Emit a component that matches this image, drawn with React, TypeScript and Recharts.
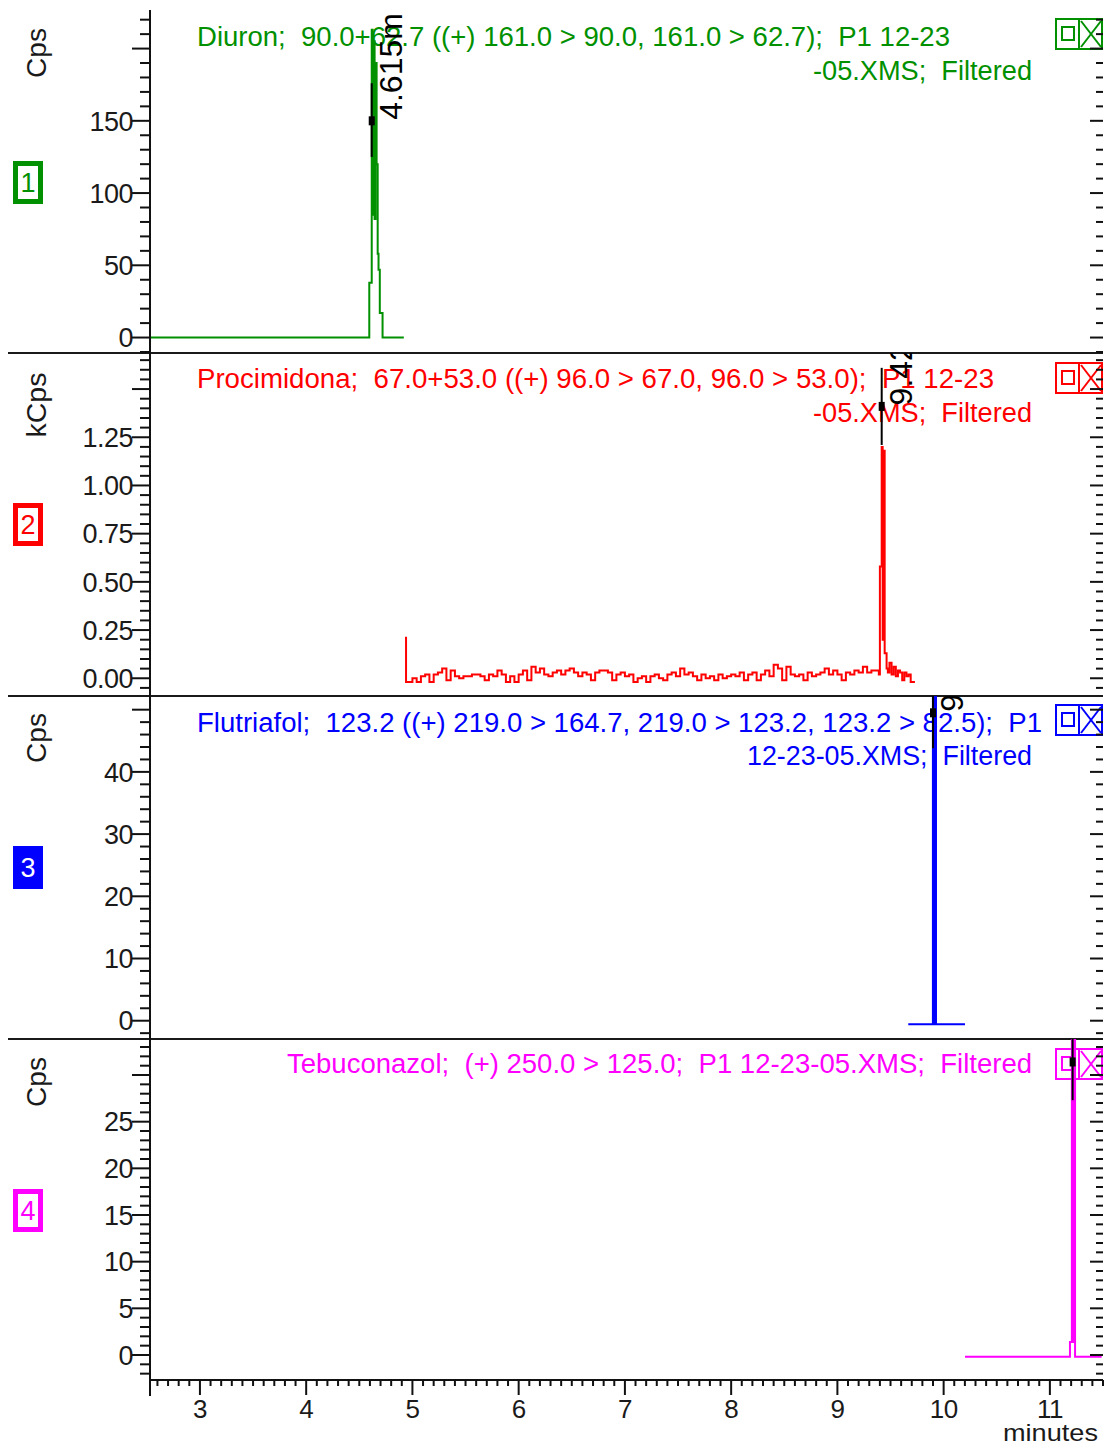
import React from "react";
import { LineChart, Line, XAxis, YAxis } from "recharts";

const FONT = "'Liberation Sans', Arial, sans-serif";
const GREEN = "#009000";
const RED = "#ff0000";
const BLUE = "#0000ff";
const MAGENTA = "#ff00ff";

// retention time axis, minutes
const timeDomain: [number, number] = [2.53, 11.5];
const minuteLabels = [3, 4, 5, 6, 7, 8, 9, 10, 11];

// 1 - Diuron, Cps
const diuronTime = [2.53, 4.594, 4.617, 4.626, 4.635, 4.644, 4.653, 4.663, 4.673, 4.681, 4.693, 4.719, 4.919];
const diuronCps = [0, 38, 213, 85, 205, 82, 190, 120, 58, 47, 17, 0, 0];

// 2 - Procimidona, kCps
const procLeadTime = [4.93, 4.94];
const procLeadKcps = [0.21, -0.02];
const procNoiseStart = 4.96;
const procNoiseStep = 0.04;
const procNoiseKcps = [
  -0.02, 0.0, -0.02, 0.01, 0.02, -0.02, 0.02, 0.03, 0.05, -0.01, 0.04,
  0.01, 0.0, 0.01, 0.01, 0.02, 0.02, 0.01, -0.01, 0.02, 0.01,
  0.04, 0.02, -0.02, 0.01, -0.02, 0.02, 0.04, -0.01, 0.06, 0.03,
  0.05, 0.02, 0.01, 0.03, 0.04, 0.02, 0.04, 0.05, 0.03, 0.01,
  0.03, 0.02, -0.01, 0.03, 0.04, 0.04, 0.03, -0.01, 0.02, 0.03,
  0.01, 0.02, -0.02, 0.0, 0.01, -0.02, 0.01, 0.02, 0.0, -0.01,
  0.02, 0.03, 0.01, 0.05, 0.02, 0.03, 0.01, -0.01, 0.02, 0.0,
  0.01, -0.01, 0.02, 0.0, 0.01, 0.02, 0.01, 0.03, -0.01, 0.02,
  0.03, -0.01, 0.02, 0.04, 0.01, 0.07, 0.05, -0.01, 0.06, 0.02,
  0.01, 0.02, -0.01, 0.03, 0.01, 0.02, 0.03, 0.05, 0.02, 0.04,
  0.02, -0.01, 0.03, 0.02, 0.04, 0.03, 0.06, 0.03, 0.04, 0.04,
];
const procPeakTime = [9.39, 9.4, 9.417, 9.426, 9.436, 9.445, 9.463, 9.475, 9.49, 9.51, 9.53, 9.55, 9.57, 9.59, 9.61, 9.63, 9.65, 9.67, 9.69, 9.73];
const procPeakKcps = [0.02, 0.58, 1.2, 0.2, 1.18, 0.13, 0.05, 0.03, 0.08, 0.02, 0.06, 0.01, 0.04, 0.03, -0.01, 0.03, 0.01, 0.02, -0.02, -0.02];

// 3 - Flutriafol, Cps
const flutTime = [9.667, 9.899, 9.909, 9.918, 9.928, 10.201];
const flutCps = [-0.58, 70, -0.58, 70, -0.58, -0.58];

// 4 - Tebuconazol, Cps
const tebuTime = [10.201, 11.189, 11.207, 11.217, 11.227, 11.237, 11.487];
const tebuCps = [-0.18, 1.4, 40, 1.4, 40, -0.18, -0.18];

// peak markers (one per trace)
const markerTime = [4.617, 9.417, 9.9, 11.214];
const markerHigh = [176, 1.61, 55, 36];
const markerLow = [125, 1.21, 43.8, 27.3];
const markerSquare = [150, 1.41, 49.5, 31.4];
const markerLabel = ["4.615m", "9.42m", "9.91m", ""];

const range = (from: number, to: number, step: number) => {
  const n = Math.round((to - from) / step);
  return Array.from({ length: n + 1 }, (_, i) => Math.round((from + i * step) * 1000) / 1000);
};
const has = (arr: number[], v: number) => arr.some((a) => Math.abs(a - v) < 1e-6);
const zip = (t: number[], v: number[]) => t.map((x, i) => ({ t: x, v: v[i] }));

const procData = [
  ...zip(procLeadTime, procLeadKcps),
  ...procNoiseKcps.map((v, i) => ({ t: Math.round((procNoiseStart + i * procNoiseStep) * 1000) / 1000, v })),
  ...zip(procPeakTime, procPeakKcps),
];

const panels = [
  {
    top: 0, height: 353, marginTop: 10, color: GREEN, data: zip(diuronTime, diuronCps),
    domain: [-10.7, 226.7], ticks: range(-10, 220, 10), majors: [0, 50, 100, 150, 200], labels: [0, 50, 100, 150], digits: 0,
  },
  {
    top: 353, height: 343, marginTop: 0, color: RED, data: procData,
    domain: [-0.092, 1.687], ticks: range(-0.05, 1.65, 0.05), majors: [0, 0.25, 0.5, 0.75, 1, 1.25, 1.5], labels: [0, 0.25, 0.5, 0.75, 1, 1.25], digits: 2,
  },
  {
    top: 696, height: 343, marginTop: 0, color: BLUE, data: zip(flutTime, flutCps),
    domain: [-2.94, 52.2], ticks: range(-2, 50, 2), majors: [0, 10, 20, 30, 40, 50], labels: [0, 10, 20, 30, 40], digits: 0,
  },
  {
    top: 1039, height: 406, marginTop: 0, color: MAGENTA, data: zip(tebuTime, tebuCps),
    domain: [-2.68, 33.86], ticks: range(-2, 33, 1), majors: [0, 5, 10, 15, 20, 25, 30], labels: [0, 5, 10, 15, 20, 25], digits: 0,
  },
];

function LeftTick(props: any) {
  const { x, y, payload, majors, labels, digits } = props;
  const v = payload.value;
  const major = has(majors, v);
  return (
    <g>
      <line x1={x - (major ? 18 : 10)} x2={x} y1={y} y2={y} stroke="#111" strokeWidth={2} />
      {has(labels, v) && (
        <text x={x - 17} y={y} dy="0.36em" textAnchor="end" fontSize={27} letterSpacing={-0.5} fill="#1a1a1a" fontFamily={FONT}>
          {v.toFixed(digits)}
        </text>
      )}
    </g>
  );
}

function RightTick(props: any) {
  const { x, y, payload, majors } = props;
  const major = has(majors, payload.value);
  return <line x1={x - (major ? 13 : 7)} x2={x} y1={y} y2={y} stroke="#111" strokeWidth={2} />;
}

function TimeTick(props: any) {
  const { x, y, payload } = props;
  const major = has(minuteLabels, payload.value);
  return (
    <g>
      <line x1={x} x2={x} y1={y} y2={y + (major ? 15 : 6)} stroke="#111" strokeWidth={2} />
      {major && (
        <text x={x} y={y + 38} textAnchor="middle" fontSize={26} letterSpacing={-0.5} fill="#1a1a1a" fontFamily={FONT}>
          {payload.value}
        </text>
      )}
    </g>
  );
}

function PeakSquare({ cx, cy, label }: any) {
  if (cx == null || cy == null) return null;
  return (
    <g>
      <rect x={cx - 3} y={cy - 4.5} width={6} height={9} fill="#000" />
      {label && (
        <text transform={`translate(${cx + 30}, ${cy - 1}) rotate(-90)`} fontSize={32} fill="#000" fontFamily={FONT}>
          {label}
        </text>
      )}
    </g>
  );
}

function Panel({ p, idx }: { p: (typeof panels)[number]; idx: number }) {
  const showX = idx === 3;
  const markLine = [
    { t: markerTime[idx], v: markerHigh[idx] },
    { t: markerTime[idx], v: markerLow[idx] },
  ];
  const markDot = [{ t: markerTime[idx], v: markerSquare[idx] }];
  return (
    <div style={{ position: "absolute", left: 0, top: p.top }}>
      <LineChart width={1109} height={p.height} margin={{ top: p.marginTop, right: 0, bottom: 0, left: 0 }}>
        <XAxis
          type="number"
          dataKey="t"
          domain={timeDomain}
          allowDataOverflow
          hide={!showX}
          height={65}
          ticks={range(2.6, 11.5, 0.1)}
          interval={0}
          tickSize={0}
          tickMargin={0}
          tickLine={false}
          axisLine={{ stroke: "#111", strokeWidth: 2 }}
          tick={(tp: any) => <TimeTick {...tp} />}
        />
        <YAxis
          yAxisId="l"
          type="number"
          domain={p.domain}
          allowDataOverflow
          ticks={p.ticks}
          interval={0}
          width={150}
          tickSize={0}
          tickMargin={0}
          tickLine={false}
          axisLine={{ stroke: "#111", strokeWidth: 2 }}
          tick={(tp: any) => <LeftTick {...tp} majors={p.majors} labels={p.labels} digits={p.digits} />}
        />
        <YAxis
          yAxisId="r"
          orientation="right"
          type="number"
          domain={p.domain}
          allowDataOverflow
          ticks={p.ticks}
          interval={0}
          width={6}
          tickSize={0}
          tickMargin={0}
          tickLine={false}
          axisLine={false}
          tick={(tp: any) => <RightTick {...tp} majors={p.majors} />}
        />
        <Line
          yAxisId="l"
          data={p.data}
          dataKey="v"
          type="stepAfter"
          stroke={p.color}
          strokeWidth={2}
          dot={false}
          isAnimationActive={false}
        />
        <Line
          yAxisId="l"
          data={markLine}
          dataKey="v"
          type="linear"
          stroke="#000"
          strokeWidth={2}
          dot={false}
          isAnimationActive={false}
        />
        <Line
          yAxisId="l"
          data={markDot}
          dataKey="v"
          stroke="none"
          isAnimationActive={false}
          dot={(dp: any) => <PeakSquare key={`sq${idx}`} cx={dp.cx} cy={dp.cy} label={markerLabel[idx]} />}
        />
      </LineChart>
    </div>
  );
}

function WinIcon({ x, y, color }: { x: number; y: number; color: string }) {
  return (
    <g stroke={color} strokeWidth={2} fill="none">
      <rect x={x + 1} y={y + 1} width={46} height={30} />
      <line x1={x + 24} y1={y + 1} x2={x + 24} y2={y + 31} />
      <rect x={x + 7} y={y + 9} width={12} height={13} />
      <line x1={x + 26} y1={y + 3} x2={x + 46} y2={y + 29} />
      <line x1={x + 46} y1={y + 3} x2={x + 26} y2={y + 29} />
    </g>
  );
}

function NumBox({ y, color, n, filled }: { y: number; color: string; n: string; filled?: boolean }) {
  return (
    <g>
      <rect x={15.5} y={y + 2.5} width={25} height={38} fill={filled ? color : "#fff"} stroke={color} strokeWidth={5} />
      <text x={28} y={y + 31} textAnchor="middle" fontSize={27} fill={filled ? "#fff" : color} fontFamily={FONT}>
        {n}
      </text>
    </g>
  );
}

function Title({ text, x0, x1, y, color }: { text: string; x0: number; x1: number; y: number; color: string }) {
  return (
    <text x={x0} y={y} fill={color} fontSize={27} fontFamily={FONT} textLength={x1 - x0} lengthAdjust="spacingAndGlyphs" style={{ whiteSpace: "pre" }}>
      {text}
    </text>
  );
}

function Unit({ text, y, len }: { text: string; y: number; len: number }) {
  return (
    <text transform={`translate(46, ${y}) rotate(-90)`} textAnchor="middle" fontSize={28} fill="#1a1a1a" fontFamily={FONT} textLength={len} lengthAdjust="spacingAndGlyphs">
      {text}
    </text>
  );
}

export default function App() {
  return (
    <div style={{ position: "absolute", left: 0, top: 0, width: 1109, height: 1445, background: "#fff" }}>
      <svg width={1109} height={1445} style={{ position: "absolute", left: 0, top: 0 }}>
        {[353, 696, 1039].map((y) => (
          <line key={y} x1={8} x2={1103} y1={y} y2={y} stroke="#1a1a1a" strokeWidth={2} />
        ))}
        <line x1={150} x2={150} y1={1379} y2={1396} stroke="#111" strokeWidth={2} />

        <Title text="Diuron;  90.0+62.7 ((+) 161.0 > 90.0, 161.0 > 62.7);  P1 12-23" x0={197} x1={950} y={46} color={GREEN} />
        <Title text="-05.XMS;  Filtered" x0={813} x1={1032} y={80} color={GREEN} />
        <Title text="Procimidona;  67.0+53.0 ((+) 96.0 > 67.0, 96.0 > 53.0);  P1 12-23" x0={197} x1={994} y={388} color={RED} />
        <Title text="-05.XMS;  Filtered" x0={813} x1={1032} y={422} color={RED} />
        <Title text="Flutriafol;  123.2 ((+) 219.0 > 164.7, 219.0 > 123.2, 123.2 > 82.5);  P1" x0={197} x1={1042} y={732} color={BLUE} />
        <Title text="12-23-05.XMS;  Filtered" x0={747} x1={1032} y={765} color={BLUE} />
        <Title text="Tebuconazol;  (+) 250.0 > 125.0;  P1 12-23-05.XMS;  Filtered" x0={287} x1={1032} y={1073} color={MAGENTA} />

        <WinIcon x={1055} y={18} color={GREEN} />
        <WinIcon x={1055} y={362} color={RED} />
        <WinIcon x={1055} y={704} color={BLUE} />
        <WinIcon x={1055} y={1048} color={MAGENTA} />

        <NumBox y={161} color={GREEN} n="1" />
        <NumBox y={503} color={RED} n="2" />
        <NumBox y={846} color={BLUE} n="3" filled />
        <NumBox y={1189} color={MAGENTA} n="4" />

        <Unit text="Cps" y={53} len={50} />
        <Unit text="kCps" y={405} len={65} />
        <Unit text="Cps" y={738} len={50} />
        <Unit text="Cps" y={1082} len={50} />

        <text x={1003} y={1441} fontSize={24} fill="#1a1a1a" fontFamily={FONT} textLength={95} lengthAdjust="spacingAndGlyphs">
          minutes
        </text>
      </svg>
      {panels.map((p, i) => (
        <Panel key={i} p={p} idx={i} />
      ))}
    </div>
  );
}
